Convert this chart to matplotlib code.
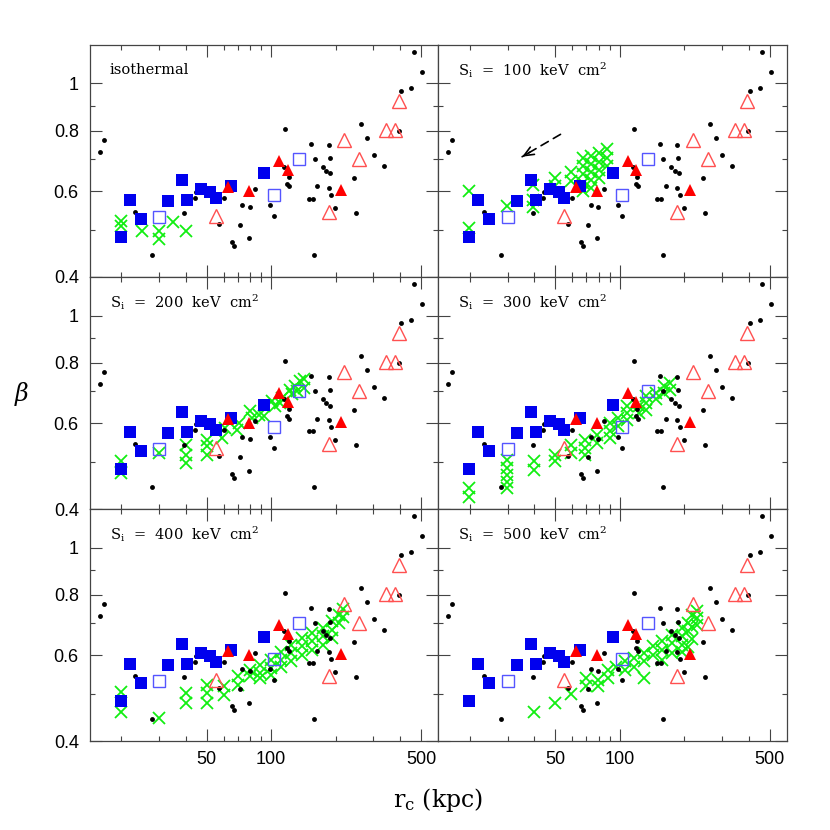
import numpy as np
import matplotlib
matplotlib.use('Agg')
import matplotlib.pyplot as plt
from matplotlib.ticker import FixedLocator, FixedFormatter, NullFormatter

plt.rcParams['font.family'] = ['Liberation Sans', 'DejaVu Sans']
plt.rcParams['mathtext.fontset'] = 'dejavuserif'

# ---------------- observational data (same in every panel) ----------------
dots_x = [15.9, 16.6, 23.3, 27.9, 39.4, 44.1, 44.5, 57.4, 60.1, 66.0, 67.4, 71.4,
          73.5, 78.6, 79.5, 84.2, 98.5, 102.8, 116.2, 115.3, 120.8, 118.7, 121.3,
          149.7, 156.3, 154.1, 159.7, 164.4, 158.6, 174.0, 180.4, 185.5, 187.5,
          188.4, 185.5, 190.4, 199.4, 243.7, 249.8, 263.5, 281.0, 300.7, 334.7,
          396.2, 403.5, 450.6, 461.8, 505.3]
dots_y = [0.722, 0.767, 0.543, 0.443, 0.541, 0.581, 0.597, 0.514, 0.581, 0.472,
          0.463, 0.511, 0.562, 0.480, 0.556, 0.607, 0.562, 0.534, 0.805, 0.673,
          0.643, 0.622, 0.614, 0.580, 0.579, 0.752, 0.700, 0.614, 0.444, 0.674,
          0.661, 0.747, 0.704, 0.653, 0.610, 0.590, 0.555, 0.640, 0.542, 0.827,
          0.772, 0.713, 0.676, 0.797, 0.964, 0.981, 1.162, 1.055]

bsq_x = [19.85, 21.9, 24.7, 33.2, 38.5, 40.6, 47.2, 52.0, 55.2, 65.3, 92.7]
bsq_y = [0.484, 0.575, 0.526, 0.573, 0.632, 0.576, 0.608, 0.597, 0.582, 0.615, 0.656]

osq_x = [30.0, 102.8, 135.5]
osq_y = [0.531, 0.591, 0.701]

rtri_x = [62.8, 78.6, 109.0, 119.5, 212.6]
rtri_y = [0.613, 0.600, 0.693, 0.663, 0.605]

otri_x = [55.2, 185.5, 219.6, 257.0, 393.0, 344.5, 379.5]
otri_y = [0.535, 0.544, 0.767, 0.700, 0.922, 0.802, 0.802]

# ---------------- simulated clusters (green crosses) ----------------
iso_x = [19.85, 19.85, 24.9, 30.0, 30.0, 34.9, 40.0]
iso_y = [0.522, 0.510, 0.498, 0.498, 0.478, 0.519, 0.498]

s100_x = [19.9, 19.9, 29.9, 39.3, 39.3, 39.3, 49.8, 49.8, 59.5, 59.5,
          67.8, 67.8, 67.8, 67.8, 67.8,
          73.8, 73.8, 73.8, 73.8, 73.8,
          80.4, 80.4, 80.4, 80.4,
          87.6, 87.6, 87.6]
s100_y = [0.602, 0.504, 0.561, 0.619, 0.577, 0.557, 0.639, 0.615, 0.657, 0.629,
          0.704, 0.678, 0.650, 0.625, 0.602,
          0.711, 0.684, 0.659, 0.634, 0.610,
          0.718, 0.691, 0.665, 0.640,
          0.732, 0.704, 0.678]

s200_x = [20.0, 20.0, 30.0, 40.2, 40.2, 40.2, 50.0, 50.0, 50.0, 59.1, 61.2, 69.4,
          70.6, 80.1, 81.6, 87.5, 92.4, 101.1, 104.7, 110.5, 112.5, 123.0, 125.3,
          129.8, 136.9, 141.9, 141.9, 132.2]
s200_y = [0.503, 0.474, 0.521, 0.542, 0.517, 0.497, 0.555, 0.538, 0.517, 0.560,
          0.587, 0.582, 0.601, 0.635, 0.616, 0.625, 0.620, 0.666, 0.650, 0.661,
          0.677, 0.704, 0.688, 0.715, 0.733, 0.739, 0.710, 0.699]

s300_x = [19.9, 19.9, 29.9, 29.9, 29.9, 29.9, 29.9, 39.8, 39.8, 49.8, 49.8,
          59.5, 59.5, 69.2, 69.2, 69.2, 78.7, 78.7, 90.5, 90.5, 90.5, 98.1, 98.1,
          108.6, 108.6, 108.6, 123.5, 123.5, 133.2, 133.2, 133.2, 148.3, 148.3,
          161.6, 161.6, 172.3, 172.3]
s300_y = [0.441, 0.423, 0.505, 0.485, 0.470, 0.455, 0.441, 0.501, 0.481, 0.517, 0.501,
          0.542, 0.521, 0.555, 0.534, 0.517, 0.569, 0.547, 0.601, 0.578, 0.560, 0.616, 0.592,
          0.630, 0.650, 0.610, 0.650, 0.630, 0.661, 0.682, 0.640, 0.693, 0.672,
          0.715, 0.693, 0.704, 0.727]

s400_x = [19.85, 19.85, 30.0, 39.9, 39.9, 50.0, 50.0, 50.0, 60.1, 60.1, 70.0, 70.0,
          79.4, 79.4, 88.4, 88.4, 88.4, 100.0, 100.0, 100.0, 111.5, 111.5, 111.5,
          124.1, 124.1, 124.1, 139.4, 139.4, 139.4, 155.7, 155.7, 155.7,
          174.4, 174.4, 174.4, 193.1, 193.1, 193.1, 208.1, 208.1, 217.3, 217.3]
s400_y = [0.505, 0.460, 0.446, 0.502, 0.478, 0.522, 0.502, 0.478, 0.518, 0.497, 0.543, 0.522,
          0.561, 0.543, 0.574, 0.552, 0.539, 0.588, 0.565, 0.547, 0.611, 0.588, 0.569,
          0.631, 0.607, 0.583, 0.652, 0.626, 0.602, 0.667, 0.641, 0.616,
          0.684, 0.657, 0.631, 0.705, 0.678, 0.652, 0.728, 0.700, 0.746, 0.721]

s500_x = [39.8, 49.8, 59.5, 69.6, 69.6, 79.1, 79.1, 88.1, 88.1, 96.0, 106.3, 106.3,
          117.1, 117.1, 129.4, 129.4, 129.4, 142.8, 142.8, 158.1, 158.1, 158.1,
          176.1, 176.1, 176.1, 195.3, 195.3, 195.3, 195.3, 208.9, 208.9, 208.9,
          218.2, 218.2, 218.2, 230.2, 230.2, 230.2]
s500_y = [0.460, 0.480, 0.499, 0.539, 0.518, 0.534, 0.518, 0.561, 0.539, 0.569, 0.583, 0.561,
          0.592, 0.569, 0.539, 0.607, 0.583, 0.626, 0.602, 0.641, 0.616, 0.588,
          0.662, 0.636, 0.607, 0.684, 0.657, 0.631, 0.610, 0.700, 0.673, 0.625,
          0.725, 0.685, 0.647, 0.739, 0.715, 0.694]

panel_labels = ['isothermal',
                r'S$_{\rm i}$  =  100  keV  cm$^{2}$',
                r'S$_{\rm i}$  =  200  keV  cm$^{2}$',
                r'S$_{\rm i}$  =  300  keV  cm$^{2}$',
                r'S$_{\rm i}$  =  400  keV  cm$^{2}$',
                r'S$_{\rm i}$  =  500  keV  cm$^{2}$']
sims = [(iso_x, iso_y), (s100_x, s100_y), (s200_x, s200_y),
        (s300_x, s300_y), (s400_x, s400_y), (s500_x, s500_y)]

xmaj = [50, 100, 500]
xmaj_lab = ['50', '100', '500']
xmin = [20, 30, 40, 60, 70, 80, 90, 200, 300, 400]
ymaj = [0.4, 0.6, 0.8, 1.0]
ymaj_lab = ['0.4', '0.6', '0.8', '1']
ymin = [0.5, 0.7, 0.9]

# arrow in the S=100 panel (start, end in data units)
arrow_start = (53.0, 0.786)
arrow_end = (35.1, 0.707)

fig, axes = plt.subplots(3, 2, figsize=(8.3, 8.3), dpi=100)
fig.subplots_adjust(left=0.1084, right=0.9482, top=0.9458, bottom=0.1072,
                    hspace=0, wspace=0)

frame_col = '#444444'
green = '#11ee11'

for k, ax in enumerate(axes.flat):
    row, col = divmod(k, 2)
    ax.set_xscale('log')
    ax.set_yscale('log')
    ax.set_xlim(14.3, 603)
    ax.set_ylim(0.4, 1.2)

    sx, sy = sims[k]
    ax.plot(sx, sy, 'x', color=green, ms=8.8, mew=1.3, zorder=2)
    ax.plot(dots_x, dots_y, 'o', color='black', ms=3.5, mew=0, zorder=3)
    ax.plot(bsq_x, bsq_y, 's', color='#0000ee', ms=8.4, mew=0, zorder=4)
    ax.plot(osq_x, osq_y, 's', mfc='none', mec='#5555ff', ms=8.6, mew=1.0, zorder=4)
    ax.plot(rtri_x, rtri_y, '^', color='#ff0000', ms=9.2, mew=0, zorder=5)
    ax.plot(otri_x, otri_y, '^', mfc='none', mec='#ff5050', ms=10.2, mew=1.0, zorder=5)

    ax.xaxis.set_major_locator(FixedLocator(xmaj))
    ax.xaxis.set_minor_locator(FixedLocator(xmin))
    ax.xaxis.set_minor_formatter(NullFormatter())
    ax.yaxis.set_major_locator(FixedLocator(ymaj))
    ax.yaxis.set_minor_locator(FixedLocator(ymin))
    ax.yaxis.set_minor_formatter(NullFormatter())
    if row == 2:
        ax.xaxis.set_major_formatter(FixedFormatter(xmaj_lab))
    else:
        ax.xaxis.set_major_formatter(NullFormatter())
    if col == 0:
        ax.yaxis.set_major_formatter(FixedFormatter(ymaj_lab))
    else:
        ax.yaxis.set_major_formatter(NullFormatter())

    ax.tick_params(which='both', direction='in', top=True, right=True,
                   color=frame_col, width=0.8, labelsize=13)
    ax.tick_params(which='major', length=8.6)
    ax.tick_params(which='minor', length=3.6)
    ax.tick_params(axis='x', which='major', pad=7)
    ax.tick_params(axis='y', which='major', pad=8)
    for sp in ax.spines.values():
        sp.set_color(frame_col)
        sp.set_linewidth(0.9)

    ax.text(0.057, 0.892, panel_labels[k], transform=ax.transAxes,
            ha='left', va='center', fontsize=10.5, family='DejaVu Serif', zorder=6)

# dashed arrow in S=100 panel
ax = axes[0, 1]
ax.annotate('', xy=arrow_end, xytext=arrow_start,
            arrowprops=dict(arrowstyle='-', linestyle=(0, (5, 3.5)), lw=1.2,
                            color='black', shrinkA=0, shrinkB=0))
lx0, ly0 = np.log10(arrow_start)
lx1, ly1 = np.log10(arrow_end)
hx = 10 ** (lx1 + 0.2 * (lx0 - lx1))
hy = 10 ** (ly1 + 0.2 * (ly0 - ly1))
ax.annotate('', xy=arrow_end, xytext=(hx, hy),
            arrowprops=dict(arrowstyle='->,head_length=0.7,head_width=0.3', lw=1.2,
                            color='black', shrinkA=0, shrinkB=0))

fig.text(0.026, 0.525, r'$\beta$', fontsize=17, ha='center', va='center')
fig.text(0.528, 0.036, r'r$_{\rm c}$ (kpc)', fontsize=17, ha='center', va='center',
         family='DejaVu Serif')

fig.savefig('out.png', dpi=100)
